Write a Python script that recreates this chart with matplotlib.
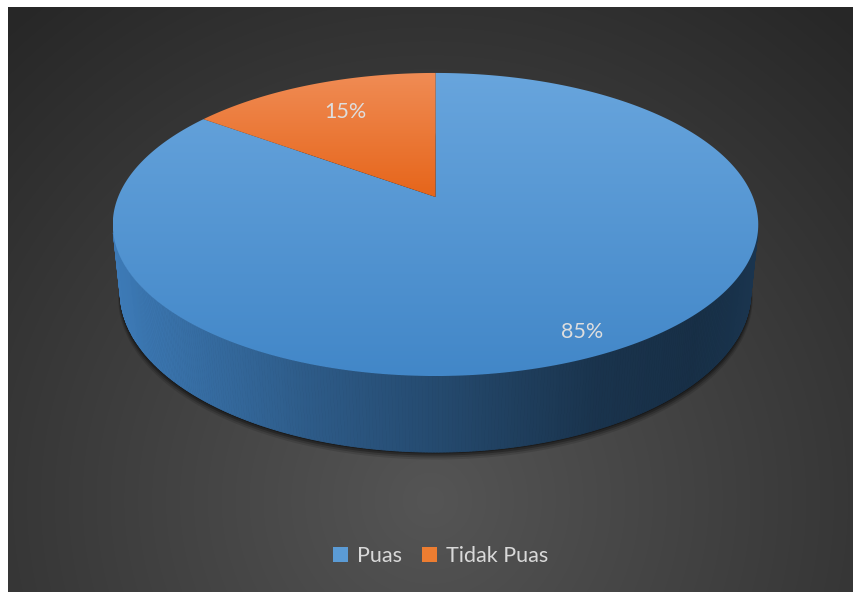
import numpy as np
import matplotlib.pyplot as plt
from matplotlib.patches import Polygon, Patch
from matplotlib.colors import to_rgb, LinearSegmentedColormap

plt.rcParams["font.family"] = ["Lato", "DejaVu Sans"]

# ---------------------------------------------------------------------------
# Data
# ---------------------------------------------------------------------------
labels = ["Puas", "Tidak Puas"]
values = [85, 15]
colors = ["#5b9bd5", "#ed7d31"]
top_light = ["#68a5dd", "#f08c55"]
top_dark = ["#4287c8", "#e6651a"]
label_r = [0.875, 0.75]

W, H = 854, 592

# view settings for the tilted disc (perspective camera)
CX, CY = 435.5, 197.0
SCALE = 317.4
DIST = 4.89
PHI = np.radians(27.5)
THICK = 0.242


def project(theta, r=1.0, z=0.0):
    """Map a point on the disc (angle clockwise from 12 o'clock) to pixels."""
    x = r * np.sin(theta)
    y = r * np.cos(theta)
    depth = y * np.cos(PHI) - z * np.sin(PHI)
    up = y * np.sin(PHI) + z * np.cos(PHI)
    k = SCALE * DIST / (DIST + depth)
    return CX + x * k, CY - up * k


def gradient_fill(ax, verts, c_top, c_bot, zorder):
    poly = Polygon(verts, closed=True, facecolor="none", edgecolor="none")
    ax.add_patch(poly)
    y0, y1 = verts[:, 1].min(), verts[:, 1].max()
    x0, x1 = verts[:, 0].min(), verts[:, 0].max()
    t = np.linspace(0, 1, 256)[:, None, None]
    img = (1 - t) * np.array(to_rgb(c_top)) + t * np.array(to_rgb(c_bot))
    img = np.repeat(img, 2, axis=1)
    im = ax.imshow(img, extent=(x0, x1, y1, y0), aspect="auto",
                   interpolation="bilinear", zorder=zorder)
    im.set_clip_path(poly)


fig = plt.figure(figsize=(W / 100, H / 100), dpi=100, facecolor="white")
ax = fig.add_axes([0, 0, 1, 1])
ax.axis("off")

# chart background: dark radial gradient, lighter near the bottom centre
gx, gy = np.meshgrid(np.arange(8, W), np.arange(7, H))
d = np.sqrt(((gx - 430) / 640.0) ** 2 + ((gy - 500) / 640.0) ** 2)
d = np.clip(d, 0, 1)
shade = (0x55 + (0x27 - 0x55) * d) / 255.0
bg = np.dstack([shade, shade, shade])
ax.imshow(bg, extent=(8, W, H, 7), aspect="auto", zorder=0)

fracs = np.array(values, dtype=float) / sum(values)
bounds = 2 * np.pi * np.concatenate([[0], np.cumsum(fracs)])

# soft shadow under the disc
th = np.linspace(0, 2 * np.pi, 400)
for grow, drop, alpha in [(1.006, 6, 0.12), (1.004, 4.5, 0.18), (1.002, 3, 0.25), (1.0, 1.5, 0.3)]:
    sx, sy = project(th, r=grow, z=-THICK)
    ax.add_patch(Polygon(np.column_stack([sx, sy + drop]), closed=True,
                         facecolor="black", edgecolor="none", alpha=alpha, zorder=1))

# side wall, shaded from left (lit) to right (dark)
side_stops = [(0.0, 0.86), (0.3, 0.64), (0.5, 0.52), (0.75, 0.36), (0.9, 0.33), (1.0, 0.37)]
side_cmap = LinearSegmentedColormap.from_list(
    "side", [(p, (f, f, f)) for p, f in side_stops])
limit = -1.0 / (DIST * np.cos(PHI))
xl, _ = project(np.radians(260))
xr, _ = project(np.radians(100))
steps = np.linspace(0, 2 * np.pi, 721)
for a0, a1 in zip(steps[:-1], steps[1:]):
    mid = 0.5 * (a0 + a1)
    if np.cos(mid) > limit:
        continue
    idx = np.searchsorted(bounds, mid) - 1
    idx = min(max(idx, 0), len(values) - 1)
    p = [project(a0), project(a1), project(a1, z=-THICK), project(a0, z=-THICK)]
    mx = np.mean([q[0] for q in p])
    f = side_cmap(np.clip((mx - xl) / (xr - xl), 0, 1))[0]
    base = np.array(to_rgb(colors[idx]))
    tint = np.array([0.78, 0.92, 1.0]) if idx == 0 else np.array([1.0, 0.9, 0.85])
    col = np.clip(base * f * tint, 0, 1)
    ax.add_patch(Polygon(p, closed=True, facecolor=col, edgecolor=col,
                         linewidth=0.6, zorder=2))

# top face wedges
for i in range(len(values)):
    arc = np.linspace(bounds[i], bounds[i + 1], 300)
    ex, ey = project(arc)
    verts = np.column_stack([np.concatenate([[CX], ex]),
                             np.concatenate([[CY], ey])])
    gradient_fill(ax, verts, top_light[i], top_dark[i], zorder=3)

# percentage labels
for i, v in enumerate(values):
    mid = 0.5 * (bounds[i] + bounds[i + 1])
    lx, ly = project(mid, r=label_r[i])
    ax.text(lx + (6 if i == 1 else 0), ly + 2, f"{v}%", ha="center", va="center",
            fontsize=15.5, color="#dedede", zorder=5)

handles = [Patch(facecolor=c, edgecolor="none") for c in colors]
ax.legend(handles, labels, loc="center", bbox_to_anchor=(0.516, 0.061),
          ncol=2, frameon=False, fontsize=15.5, labelcolor="#d9d9d9",
          handlelength=0.7, handleheight=0.7, handletextpad=0.4,
          columnspacing=0.95)

ax.set_xlim(0, W)
ax.set_ylim(H, 0)
fig.savefig("out.png", dpi=100, facecolor="white")
